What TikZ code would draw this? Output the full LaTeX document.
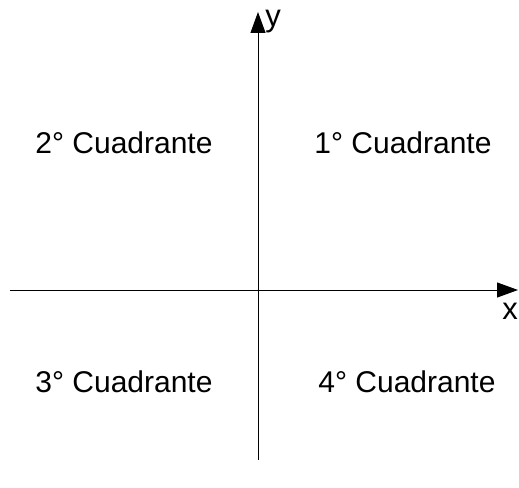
\documentclass[tikz,border=0pt]{standalone}
\usepackage{fontspec}
\setmainfont{Liberation Sans}
\usetikzlibrary{arrows.meta}
\begin{document}
\begin{tikzpicture}[x=1pt,y=-1pt,
  axis/.style={line width=1pt,-{Triangle[length=21pt,width=15pt]}},
  lbl/.style={font=\fontsize{30}{34}\selectfont,inner sep=0pt,anchor=center},
  albl/.style={font=\fontsize{31}{34}\selectfont,inner sep=0pt,anchor=center}]
\useasboundingbox (0,0) rectangle (519,487);
\coordinate (ys) at (258,460);
\coordinate (ye) at (258,12);
\coordinate (xs) at (10,290);
\coordinate (xe) at (518,290);
\draw[axis] (ys) -- (ye);
\draw[axis] (xs) -- (xe);
\node[albl] (ylab) at (273,22) {y};
\node[albl] (xlab) at (510,311) {x};
\node[lbl] (q2) at (124,143) {2° Cuadrante};
\node[lbl] (q1) at (403,143) {1° Cuadrante};
\node[lbl] (q3) at (124,382) {3° Cuadrante};
\node[lbl] (q4) at (407,382) {4° Cuadrante};
\end{tikzpicture}
\end{document}
